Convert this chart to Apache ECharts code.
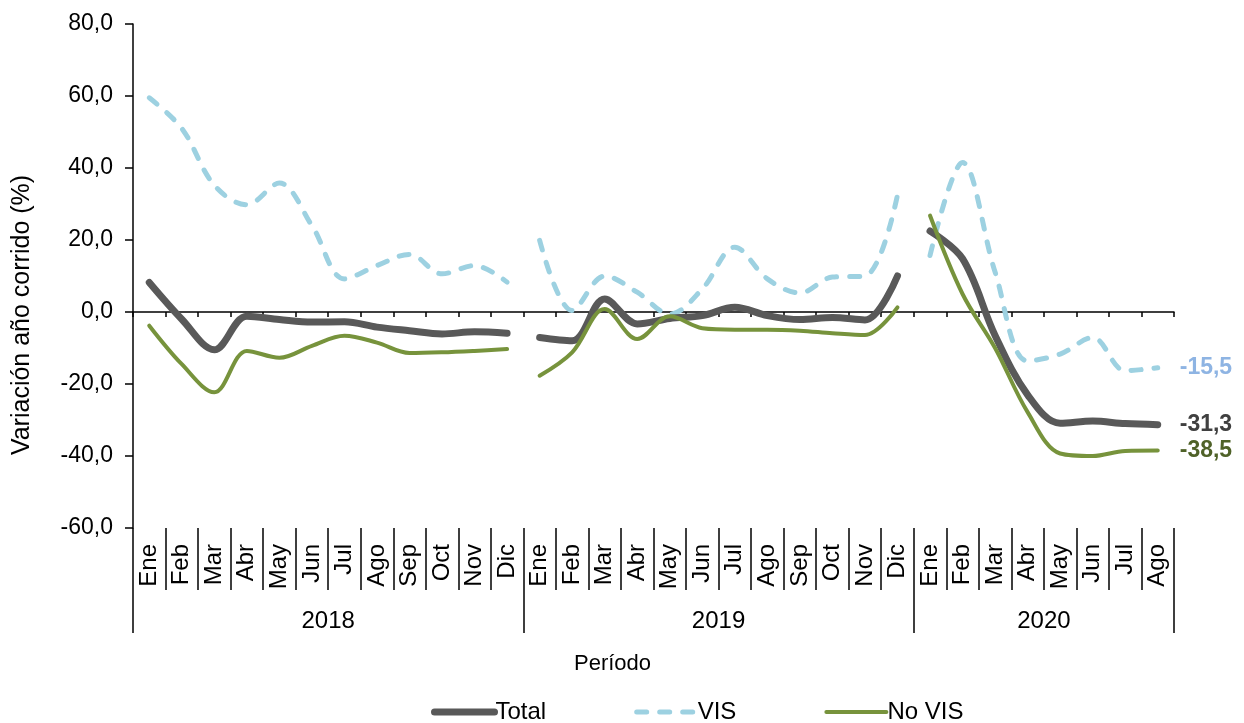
<!DOCTYPE html>
<html>
<head>
<meta charset="utf-8">
<title>Variación año corrido</title>
<script src="https://cdn.jsdelivr.net/npm/echarts@6/dist/echarts.min.js"></script>
<style>
    html, body { margin: 0; padding: 0; background: #fff; }
    #chart1 { width: 1244px; height: 723px; }
</style>
</head>
<body>
<div id="chart1"></div>
<script>
    // años y meses del eje
    var years = ['2018', '2019', '2020'];
    var months2018 = ['Ene', 'Feb', 'Mar', 'Abr', 'May', 'Jun', 'Jul', 'Ago', 'Sep', 'Oct', 'Nov', 'Dic'];
    var months2019 = ['Ene', 'Feb', 'Mar', 'Abr', 'May', 'Jun', 'Jul', 'Ago', 'Sep', 'Oct', 'Nov', 'Dic'];
    var months2020 = ['Ene', 'Feb', 'Mar', 'Abr', 'May', 'Jun', 'Jul', 'Ago'];

    // Total
    var total2018 = [8.2, -2.0, -10.5, -1.2, -2.1, -2.8, -2.7, -4.2, -5.2, -6.1, -5.5, -5.9];
    var total2019 = [-7.1, -8.0, 3.6, -3.3, -1.8, -1.0, 1.3, -1.0, -2.1, -1.5, -2.2, 10.0];
    var total2020 = [22.5, 14.8, -6.5, -23.0, -30.9, -30.3, -31.0, -31.3];

    // VIS
    var vis2018 = [59.5, 51.0, 35.2, 29.8, 35.8, 24.0, 9.2, 12.9, 16.0, 10.6, 12.9, 8.3];
    var vis2019 = [19.9, 0.4, 10.0, 5.5, -0.6, 6.4, 18.0, 9.2, 5.3, 9.7, 10.0, 32.5];
    var vis2020 = [15.7, 41.5, 11.1, -13.6, -11.7, -7.1, -16.3, -15.5];

    // No VIS
    var novis2018 = [-3.8, -14.5, -22.3, -10.8, -12.7, -9.4, -6.6, -8.5, -11.4, -11.2, -10.8, -10.3];
    var novis2019 = [-17.7, -11.2, 0.8, -7.5, -1.2, -4.5, -4.9, -4.9, -5.2, -5.9, -6.4, 1.3];
    var novis2020 = [26.8, 5.0, -10.0, -27.8, -39.3, -40.0, -38.6, -38.5];

    var monthsByYear = [months2018, months2019, months2020];
    var categories = [].concat(months2018, months2019, months2020);
    var nCat = categories.length;

    // inicio de cada año en el eje de categorías
    var yearStart = [];
    var acc = 0;
    monthsByYear.forEach(function (m) { yearStart.push(acc); acc += m.length; });
    var yearBounds = yearStart.concat([nCat]);
    var yearCenters = monthsByYear.map(function (m, i) { return yearStart[i] + m.length / 2; });

    // coloca los valores de un año en el arreglo completo (resto vacío)
    function place(vals, yearIdx) {
        var arr = [];
        for (var i = 0; i < nCat; i++) arr.push(null);
        vals.forEach(function (v, i) { arr[yearStart[yearIdx] + i] = v; });
        return arr;
    }

    function fmt(v) {
        return Number(v).toFixed(1).replace('.', ',');
    }

    var FONT = '"Liberation Sans", Arial, sans-serif';

    var styles = {
        'Total': { color: '#595959', width: 7, type: 'solid', label: '#404040' },
        'VIS': { color: '#9DD1E1', width: 5, type: [10, 13], label: '#8EB4E3' },
        'No VIS': { color: '#77933C', width: 4, type: 'solid', label: '#4F6228' }
    };

    function makeSeries(name, vals, yearIdx, isLast) {
        var s = styles[name];
        var obj = {
            name: name,
            type: 'line',
            xAxisIndex: 0,
            yAxisIndex: 0,
            data: place(vals, yearIdx),
            smooth: 0.35,
            symbol: 'none',
            connectNulls: false,
            color: s.color,
            lineStyle: { color: s.color, width: s.width, type: s.type, cap: 'round', join: 'round' },
            z: name === 'Total' ? 3 : (name === 'VIS' ? 2 : 4)
        };
        if (isLast) {
            obj.endLabel = {
                show: true,
                distance: 22,
                formatter: function (p) { return fmt(p.value); },
                color: s.label,
                fontWeight: 'bold',
                fontSize: 23,
                fontFamily: FONT
            };
        }
        return obj;
    }

    var series = [
        makeSeries('VIS', vis2018, 0), makeSeries('VIS', vis2019, 1), makeSeries('VIS', vis2020, 2, true),
        makeSeries('Total', total2018, 0), makeSeries('Total', total2019, 1), makeSeries('Total', total2020, 2, true),
        makeSeries('No VIS', novis2018, 0), makeSeries('No VIS', novis2019, 1), makeSeries('No VIS', novis2020, 2, true)
    ];

    // entradas de la leyenda: solo la línea, sin símbolo
    var legendNames = ['Total', 'VIS', 'No VIS'];
    var legendData = legendNames.map(function (n) {
        var s = styles[n];
        return {
            name: n,
            itemStyle: { opacity: 0 },
            lineStyle: { color: s.color, width: s.width, type: s.type, cap: 'round' }
        };
    });

    var myChart1 = echarts.init(document.getElementById('chart1'));
    myChart1.setOption({
        animation: false,
        backgroundColor: '#fff',
        textStyle: { fontFamily: FONT },
        grid: { left: 133, right: 70, top: 24, bottom: 195, containLabel: false },
        legend: {
            data: legendData,
            left: 426,
            top: 695,
            itemWidth: 60,
            itemHeight: 22,
            itemGap: 88,
            textStyle: { fontSize: 24, color: '#000', fontFamily: FONT, padding: [0, 0, 0, -4] }
        },
        graphic: [{
            type: 'text',
            x: 22,
            y: 315,
            rotation: Math.PI / 2,
            style: {
                text: 'Variación año corrido (%)',
                font: '25px "Liberation Sans", Arial, sans-serif',
                fill: '#000',
                align: 'center',
                verticalAlign: 'middle'
            }
        }],
        xAxis: [
            {
                // eje en cero con marcas
                type: 'category',
                data: categories,
                boundaryGap: true,
                position: 'bottom',
                axisLine: { show: true, onZero: true, lineStyle: { color: '#000', width: 1.5 } },
                axisTick: { show: true, interval: 0, length: 5, lineStyle: { color: '#000', width: 1.5 } },
                axisLabel: { show: false },
                splitLine: { show: false }
            },
            {
                // etiquetas de los meses
                type: 'category',
                data: categories,
                boundaryGap: true,
                position: 'bottom',
                axisLine: { show: false, onZero: false },
                axisTick: { show: true, interval: 0, length: 62, lineStyle: { color: '#000', width: 1.5 } },
                axisLabel: { show: true, interval: 0, rotate: 90, margin: 16, fontSize: 24, color: '#000', fontFamily: FONT },
                splitLine: { show: false }
            },
            {
                // años
                type: 'value',
                min: 0,
                max: nCat,
                position: 'bottom',
                axisLine: { show: false, onZero: false },
                axisTick: { show: true, customValues: yearBounds, length: 105, lineStyle: { color: '#000', width: 1.5 } },
                axisLabel: {
                    show: true,
                    customValues: yearCenters,
                    margin: 81,
                    fontSize: 24,
                    color: '#000',
                    fontFamily: FONT,
                    formatter: function (v) {
                        var i = yearCenters.indexOf(v);
                        return i >= 0 ? years[i] : '';
                    }
                },
                splitLine: { show: false },
                name: 'Período',
                nameLocation: 'middle',
                nameGap: 125,
                nameTextStyle: { fontSize: 22, color: '#000', fontFamily: FONT, padding: [0, 82, 0, 0] }
            }
        ],
        yAxis: {
            type: 'value',
            min: -60,
            max: 80,
            interval: 20,
            axisLine: { show: true, lineStyle: { color: '#000', width: 1.5 } },
            axisTick: { show: true, length: 8, lineStyle: { color: '#000', width: 1.5 } },
            axisLabel: { formatter: fmt, fontSize: 23, color: '#000', margin: 20, fontFamily: FONT },
            splitLine: { show: false }
        },
        series: series
    });
</script>
</body>
</html>
